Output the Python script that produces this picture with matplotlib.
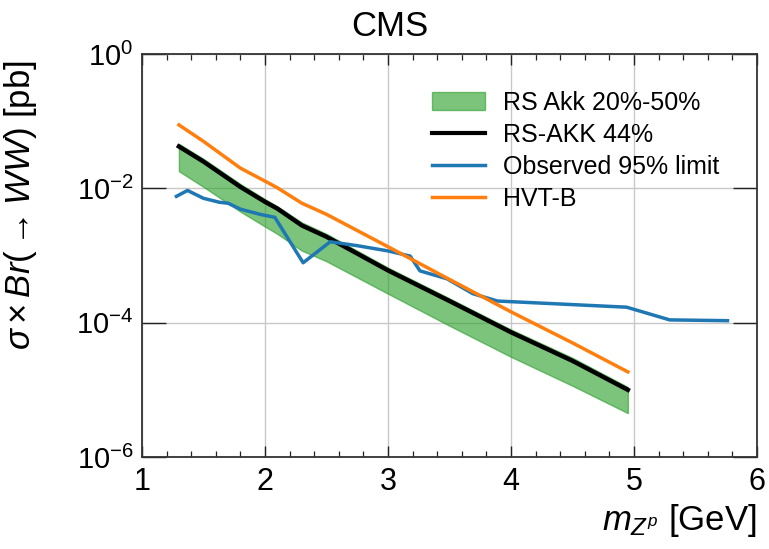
import matplotlib
matplotlib.use("Agg")
import matplotlib.pyplot as plt
import matplotlib.ticker as mticker
from matplotlib.patches import Patch
from matplotlib.lines import Line2D

plt.rcParams['font.family'] = ['Liberation Sans', 'DejaVu Sans']
plt.rcParams['mathtext.fontset'] = 'custom'
plt.rcParams['mathtext.rm'] = 'Liberation Sans'
plt.rcParams['mathtext.it'] = 'Liberation Sans:italic'
plt.rcParams['mathtext.bf'] = 'Liberation Sans:bold'

# ---- data ----
mass_rs = [1.3, 1.5, 1.8, 2.0, 2.1, 2.3, 2.5, 3.0, 3.5, 4.0, 4.5, 4.95]
rs_44 = [0.042, 0.025, 0.0105, 0.0063, 0.0050, 0.0028, 0.0019, 6.0e-4, 2.1e-4, 7.2e-5, 2.7e-5, 1.0e-5]
rs_50 = [0.046, 0.0275, 0.0116, 0.0069, 0.0054, 0.0031, 0.0021, 6.6e-4, 2.3e-4, 7.9e-5, 3.0e-5, 1.1e-5]
rs_20 = [0.018, 0.0105, 0.0045, 0.0027, 0.0021, 0.00118, 8.2e-4, 2.7e-4, 9.0e-5, 3.1e-5, 1.15e-5, 4.5e-6]

mass_hvt = [1.3, 1.5, 1.8, 2.0, 2.1, 2.3, 2.5, 3.0, 3.5, 4.0, 4.5, 4.95]
hvt_b = [0.088, 0.05, 0.02, 0.0128, 0.0102, 0.0060, 0.0041, 0.00135, 4.4e-4, 1.45e-4, 5.0e-5, 1.85e-5]

mass_obs = [1.28, 1.37, 1.50, 1.63, 1.70, 1.80, 1.96, 2.08, 2.31, 2.53, 2.75, 3.0,
            3.18, 3.26, 3.48, 3.69, 3.89, 4.94, 5.29, 5.76]
obs_limit = [7.6e-3, 9.3e-3, 7.1e-3, 6.2e-3, 6.0e-3, 4.9e-3, 4.1e-3, 3.7e-3, 7.8e-4,
             1.6e-3, 1.4e-3, 1.17e-3, 9.8e-4, 5.9e-4, 4.5e-4, 2.7e-4, 2.1e-4, 1.7e-4,
             1.1e-4, 1.07e-4]

x_ticks = [1, 2, 3, 4, 5, 6]
y_ticks = [1e-6, 1e-4, 1e-2, 1e0]

# ---- figure ----
fig = plt.figure(figsize=(7.69, 5.49), dpi=100)
ax = fig.add_axes([142/769, 1-457/549, (757-142)/769, (457-54)/549])

ax.fill_between(mass_rs, rs_20, rs_50, facecolor='#2ca02c', alpha=0.62,
                edgecolor='#2ca02c', linewidth=1.0, zorder=2)
ax.plot(mass_rs, rs_44, color='black', lw=3.2, zorder=3)
ax.plot(mass_obs, obs_limit, color='#1f77b4', lw=2.5, zorder=4)
ax.plot(mass_hvt, hvt_b, color='#ff7f0e', lw=2.5, zorder=4)

ax.set_yscale('log')
ax.set_xlim(1, 6)
ax.set_ylim(1e-6, 1e0)
ax.set_xticks(x_ticks)
ax.xaxis.set_minor_locator(mticker.MultipleLocator(0.2))
ax.set_yticks(y_ticks)
ax.yaxis.set_minor_locator(mticker.NullLocator())
ax.yaxis.set_major_formatter(mticker.LogFormatterSciNotation())

ax.grid(True, which='major', color='#c8c8c8', lw=1.0, zorder=0)
ax.set_axisbelow(True)
for s in ax.spines.values():
    s.set_linewidth(1.3)
    s.set_color('#333333')

ax.tick_params(axis='both', which='both', direction='in', top=True, right=True,
               color='#222222')
ax.tick_params(axis='x', which='major', length=8, width=1.0, pad=7, labelsize=22)
ax.tick_params(axis='x', which='minor', length=4, width=0.9)
ax.tick_params(axis='y', which='major', length=17, width=1.0, pad=6, labelsize=21)

ax.set_ylabel(r'$\sigma\times Br(\rightarrow WW)$ [pb]', fontsize=25, loc='top')
ax.yaxis.set_label_coords(-0.168, 0.985)
ax.set_xlabel(r'$m_{Z^p}$ [GeV]', fontsize=25, loc='right', labelpad=4)

fig.text(390/769, 1-27/549, 'CMS', fontsize=25, ha='center', va='center')

handles = [Patch(facecolor='#2ca02c', alpha=0.62, edgecolor='#2ca02c'),
           Line2D([], [], color='black', lw=3),
           Line2D([], [], color='#1f77b4', lw=2.5),
           Line2D([], [], color='#ff7f0e', lw=2.5)]
labels = ['RS Akk 20%-50%', 'RS-AKK 44%', 'Observed 95% limit', 'HVT-B']
ax.legend(handles, labels, loc='upper left', bbox_to_anchor=(0.435, 0.965),
          frameon=False, fontsize=18, handlelength=2.1, labelspacing=0.32,
          handletextpad=0.75)

fig.savefig('out.png', dpi=100)
